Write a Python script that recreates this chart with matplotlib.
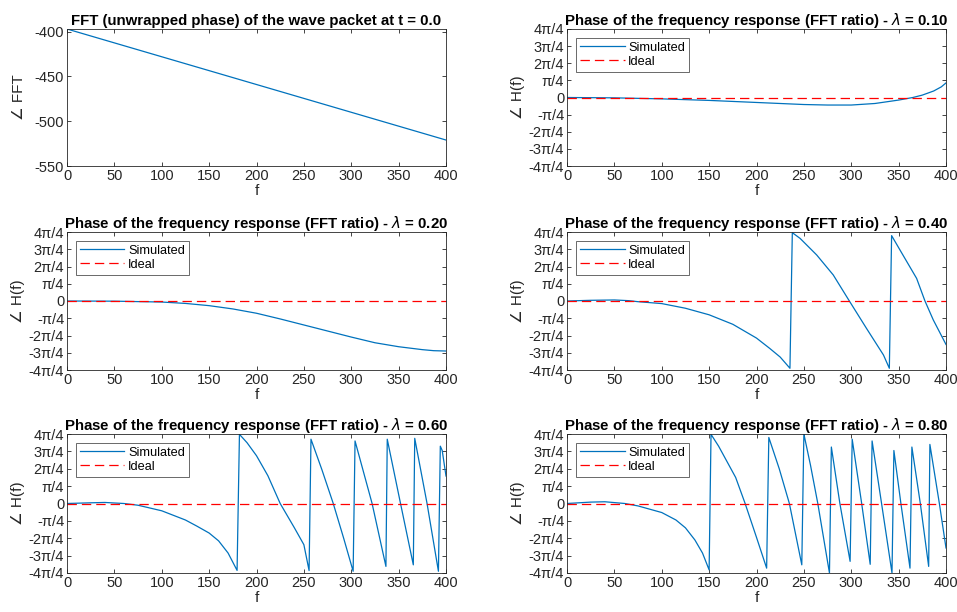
import numpy as np
import matplotlib.pyplot as plt

plt.rcParams['font.family'] = ['Liberation Sans', 'DejaVu Sans']
plt.rcParams['axes.unicode_minus'] = False

# unwrapped phase of the packet FFT
f_fft = [0, 100, 200, 300, 400]
ph_fft = [-397, -428, -459, -490, -521]

# phase of H(f) in units of pi/4, one pair of lists per lambda
lam = ['0.10', '0.20', '0.40', '0.60', '0.80']

f_l1 = [0, 50, 100, 150, 200, 250, 275, 300, 325, 350, 365, 375, 387, 395, 400]
h_l1 = [0, -0.02, -0.08, -0.17, -0.29, -0.41, -0.44, -0.44, -0.35, -0.15, 0, 0.14,
        0.38, 0.62, 0.85]

f_l2 = [0, 50, 100, 125, 150, 175, 200, 225, 250, 275, 300, 325, 350, 375, 387, 400]
h_l2 = [0, -0.01, -0.06, -0.14, -0.27, -0.46, -0.71, -1.04, -1.39, -1.74, -2.09,
        -2.42, -2.65, -2.82, -2.88, -2.9]

f_l4 = [0, 25, 50, 65, 75, 100, 125, 150, 175, 200, 214, 225, 235.3,
        237.8, 246, 263.5, 281, 298, 316, 334, 340.2,
        342.6, 351.4, 369, 377.8, 386.6, 400]
h_l4 = [0, 0.04, 0.06, 0.02, -0.04, -0.15, -0.42, -0.8, -1.35, -2.15, -2.75, -3.25, -3.9,
        3.96, 3.63, 2.67, 1.51, 0, -1.58, -3.13, -3.9,
        3.79, 2.96, 1.31, 0, -1.1, -2.52]

f_l6 = [0, 25, 40, 60, 75, 100, 125, 137, 150, 160, 170, 179.5,
        182, 190, 200, 212, 225, 240, 250, 255.5,
        257.5, 269, 281, 292, 302, 304, 322, 336.6, 338, 352, 365.5, 367, 380, 392,
        394, 396, 400]
h_l6 = [0, 0.04, 0.06, 0, -0.1, -0.42, -0.95, -1.3, -1.7, -2.15, -2.85, -3.85,
        3.98, 3.5, 2.75, 1.6, 0, -1.4, -2.37, -3.86,
        3.7, 1.95, 0, -2.0, -3.9, 3.6, 0, -3.62, 3.7, 0, -3.53, 3.75, 0, -3.9,
        3.3, 3.05, 1.58]

f_l8 = [0, 25, 40, 61, 75, 100, 115, 125, 135, 143, 150,
        152, 160, 170, 178, 188, 200, 210.7, 213, 224, 234.7, 247.8, 250, 257, 264.7,
        277, 279, 288, 298.8, 301, 311, 320, 322, 332, 343, 345, 352.4, 362, 364, 372.9,
        381.7, 383, 393, 400]
h_l8 = [0, 0.08, 0.1, 0, -0.14, -0.52, -0.95, -1.4, -2.1, -2.85, -3.82,
        3.98, 3.3, 2.3, 1.5, 0, -1.95, -3.72, 3.8, 2.0, 0, -3.53, 4.0, 2.2, 0,
        -4.0, 3.25, 0, -3.33, 3.7, 0, -3.5, 3.6, 0, -4.0, 3.05, 0, -3.72, 3.25, 0,
        -3.62, 3.4, 0, -2.56]

xticks = [0, 50, 100, 150, 200, 250, 300, 350, 400]
yticks = [-4, -3, -2, -1, 0, 1, 2, 3, 4]
ylabels = ['-4π/4', '-3π/4', '-2π/4', '-π/4', '0', 'π/4', '2π/4', '3π/4', '4π/4']

blue = '#0072BD'
grey = '#262626'
W, H = 957, 612


def make_ax(fig, x0, x1, y0, y1):
    ax = fig.add_axes([x0 / W, 1 - y1 / H, (x1 - x0) / W, (y1 - y0) / H])
    ax.tick_params(direction='in', top=True, right=True, labelsize=10.5,
                   colors=grey, length=3, width=0.6, pad=2)
    for s in ax.spines.values():
        s.set_color(grey)
        s.set_linewidth(0.6)
    ax.set_xlim(0, 400)
    ax.set_xticks(xticks)
    ax.set_xlabel('f', fontsize=11, color=grey, labelpad=1)
    return ax


def phase_panel(ax, f, h, l):
    ax.plot(f, h, color=blue, lw=0.9, label='Simulated')
    ax.plot([0, 400], [0, 0], color='red', ls=(0, (7.5, 4)), lw=0.9, label='Ideal')
    ax.set_ylim(-4, 4)
    ax.set_yticks(yticks)
    ax.set_yticklabels(ylabels)
    ax.set_ylabel('∠ H(f)', fontsize=11, color=grey, labelpad=3)
    ax.set_title('Phase of the frequency response (FFT ratio) - $\\lambda$ = ' + l,
                 fontsize=10.8, fontweight='bold', pad=3)
    leg = ax.legend(loc='upper left', fontsize=9.2, frameon=True, fancybox=False,
                    edgecolor=grey, borderaxespad=0.7, handlelength=3.5,
                    handletextpad=0.3, borderpad=0.3, labelspacing=0.15)
    leg.get_frame().set_linewidth(0.6)


fig = plt.figure(figsize=(9.57, 6.12), dpi=100)

rows = [(29, 166), (232, 370), (434, 573)]
cols = [(67, 446), (567, 946)]

ax = make_ax(fig, cols[0][0], cols[0][1], rows[0][0], rows[0][1])
ax.plot(f_fft, ph_fft, color=blue, lw=0.9)
ax.set_ylim(-550, -397)
ax.set_yticks([-550, -500, -450, -400])
ax.set_ylabel('∠ FFT', fontsize=11, color=grey, labelpad=6)
ax.set_title('FFT (unwrapped phase) of the wave packet at t = 0.0',
             fontsize=10.8, fontweight='bold', pad=3)

series = [(f_l1, h_l1), (f_l2, h_l2), (f_l4, h_l4), (f_l6, h_l6), (f_l8, h_l8)]
slots = [(0, 1), (1, 0), (1, 1), (2, 0), (2, 1)]
for (f, h), l, (r, c) in zip(series, lam, slots):
    ax = make_ax(fig, cols[c][0], cols[c][1], rows[r][0], rows[r][1])
    phase_panel(ax, f, h, l)

fig.savefig('out.png', dpi=100)
